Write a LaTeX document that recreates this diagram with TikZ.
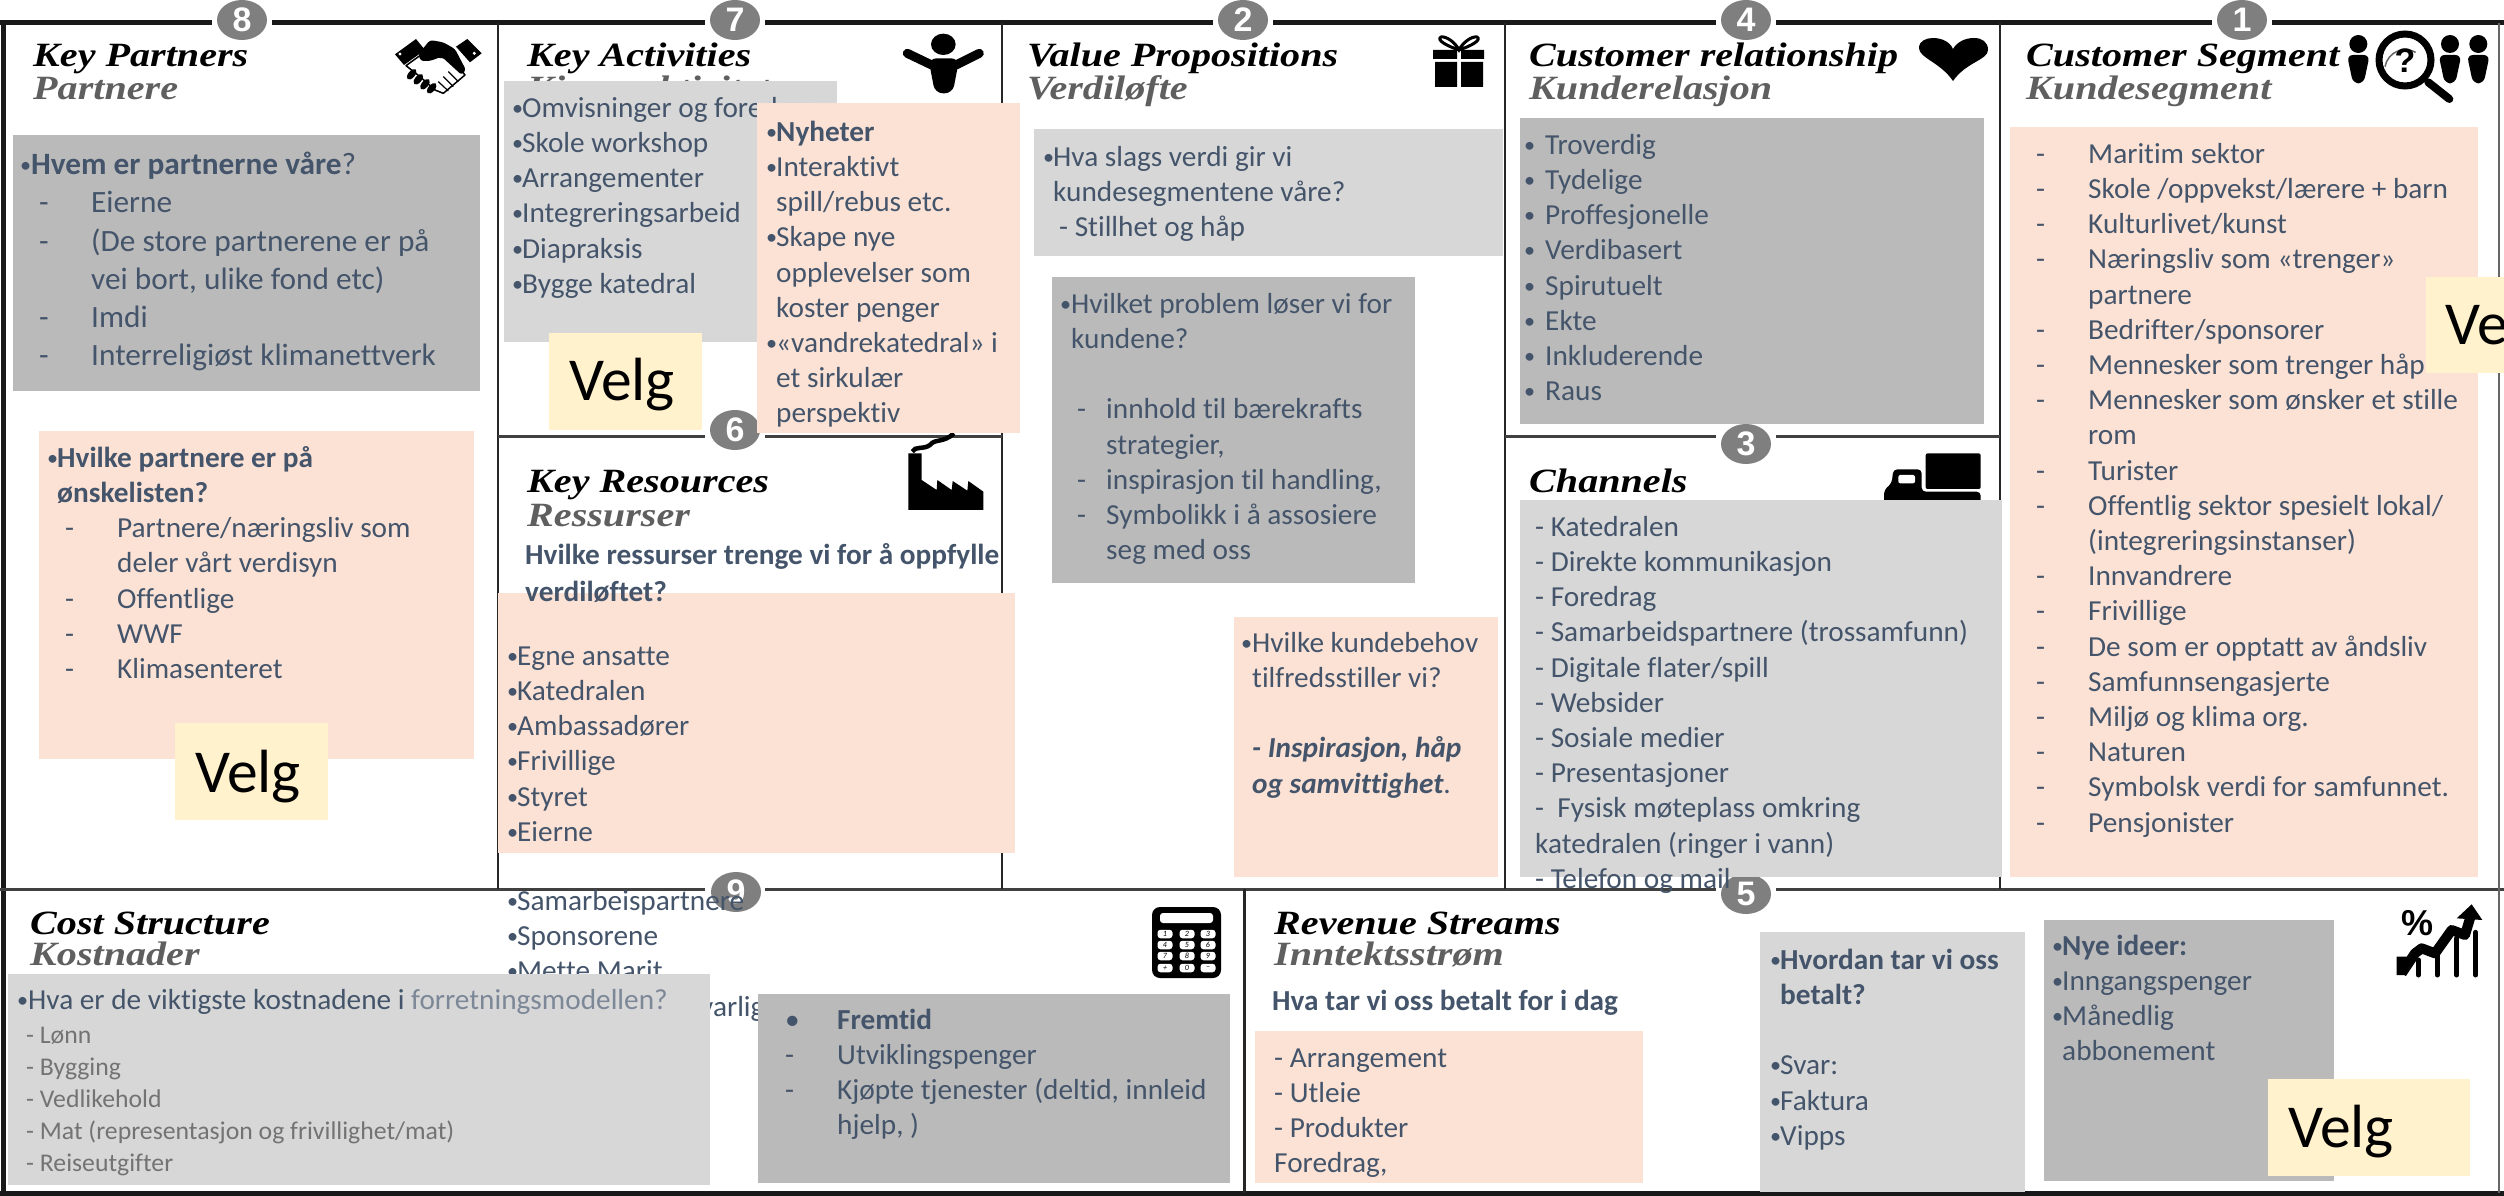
\documentclass[tikz,border=0pt]{standalone}
\usepackage{fontspec}
\usetikzlibrary{shapes.geometric}
\setmainfont{Carlito}
\newfontfamily\bodyf[FakeStretch=1.01,Ligatures=NoCommon]{Carlito}
\newfontfamily\ttlf[FakeStretch=1.18]{Liberation Serif}
\newfontfamily\numf{Liberation Sans}
\definecolor{dgray}{HTML}{BABABA}
\definecolor{lgray}{HTML}{D7D7D7}
\definecolor{peach}{HTML}{FBE2D5}
\definecolor{yel}{HTML}{FFF2CC}
\definecolor{ink}{HTML}{44546A}
\definecolor{subt}{HTML}{5F5F5F}
\definecolor{badgec}{HTML}{7F7F7F}
\newcommand\fs[2]{\fontsize{#1pt}{#2pt}\selectfont}
\newcommand\st{\rule{0pt}{26pt}}
\newcommand\bu[1][12]{\makebox[#1pt][l]{\raisebox{2pt}{\fs{22}{22}•}}}
\newcommand\sk[1]{\hspace*{#1pt}}
\newcommand\dd[3]{\makebox[#2pt][l]{\hspace*{#1pt}-}#3}
\tikzset{
  txt/.style={anchor=north west,inner sep=0pt,yshift=26pt,align=left,text=ink,font=\bodyf\fs{29}{35.2}},
  ttl/.style={anchor=base west,inner sep=0pt,font=\ttlf\bfseries\itshape\fs{34}{36},text=black},
  sub/.style={anchor=base west,inner sep=0pt,font=\ttlf\bfseries\itshape\fs{34}{36},text=subt},
  velg/.style={anchor=base west,inner sep=0pt,font=\bodyf\fs{61}{61},text=black},
  badge/.style={ellipse,fill=badgec,text=white,minimum width=50pt,minimum height=40pt,inner sep=0pt,font=\numf\bfseries\fs{34}{34}},
  frameb/.style={line width=5pt,draw=black!90},
  framem/.style={line width=3pt,draw=black!75},
  zm/.style 2 args={shift={(#1,#2)},x=0.3333pt,y=-0.3333pt},
  key/.style={fill=white,rounded corners=3pt,minimum width=15pt,minimum height=8.5pt,inner sep=0pt,font=\itshape\fs{8}{8},text=black}
}
\newcommand\gap[2]{\fill[white] (#1-30,#2-6) rectangle (#1+30,#2+6);}
\begin{document}
\begin{tikzpicture}[x=1pt,y=-1pt]
\useasboundingbox (0,0) rectangle (2504,1196);
\fill[white] (0,0) rectangle (2504,1196);
\clip (0,0) rectangle (2504,1196);
% grid
\draw[frameb] (0,23) -- (2504,23);
\draw[frameb] (3,23) -- (3,1193);
\draw[frameb] (0,1193) -- (2504,1193);
\draw[framem] (0,889) -- (2504,889);
\draw[line width=2.5pt,draw=black!85] (498,23) -- (498,889);
\draw[line width=2.5pt,draw=black!85] (1002,23) -- (1002,889);
\draw[line width=2.5pt,draw=black!85] (1505,23) -- (1505,889);
\draw[line width=2.5pt,draw=black!85] (2000,23) -- (2000,889);
\draw[line width=3pt,draw=black!85] (1244,889) -- (1244,1193);
\draw[line width=2pt,draw=black!60] (2499,23) -- (2499,1193);
\draw[framem] (498,436) -- (1002,436);
\draw[framem] (1505,436) -- (2000,436);
% badges
\gap{242}{23}\node[badge] (b8) at (242,20) {8};
\gap{735}{23}\node[badge] (b7) at (735,20) {7};
\gap{1243}{23}\node[badge] (b2) at (1243,20) {2};
\gap{1746}{23}\node[badge] (b4) at (1746,20) {4};
\gap{2242}{23}\node[badge] (b1) at (2242,20) {1};
\gap{735}{436}\node[badge] (b6) at (735,430) {6};
\gap{1746}{436}\node[badge] (b3) at (1746,444) {3};
\gap{735}{889}\node[badge] (b9) at (736,892) {9};
\gap{1746}{889}\node[badge] (b5) at (1746,894) {5};
% titles
\node[ttl] (t1) at (33,67) {Key Partners};
\node[sub] (s1) at (33,100) {Partnere};
\node[ttl] (t2) at (527,67) {Key Activities};
\node[sub] (s2) at (527,100) {Kjerneaktiviteter};
\node[ttl] (t3) at (527,492) {Key Resources};
\node[sub] (s3) at (527,526) {Ressurser};
\node[ttl] (t4) at (1027,67) {Value Propositions};
\node[sub] (s4) at (1027,100) {Verdiløfte};
\node[ttl] (t5) at (1529,67) {Customer relationship};
\node[sub] (s5) at (1529,100) {Kunderelasjon};
\node[ttl] (t6) at (1529,492) {Channels};
\node[ttl] (t7) at (2026,67) {Customer Segment};
\node[sub] (s7) at (2026,100) {Kundesegment};
\node[ttl] (t8) at (30,934) {Cost Structure};
\node[sub] (s8) at (30,965) {Kostnader};
\node[ttl] (t9) at (1274,934) {Revenue Streams};
\node[sub] (s9) at (1274,965) {Inntektsstrøm};
% icon: handshake
\begin{scope}[zm={380}{25}]
\fill[black] (45,88)--(108,42)--(135,75)--(72,120)--cycle;
\fill[black] (228,65)--(262,42)--(305,85)--(270,112)--cycle;
\fill[white] (60,87) circle (5);
\fill[white] (283,85) circle (5);
\draw[black,line width=1.5pt,fill=white,line join=round] (78,122)--(125,88)--(160,95)--(215,100)--(255,150)--(190,205)--(165,195)--(120,155)--cycle;
\fill[black,rounded corners=3pt] (115,88)--(150,45)--(190,52)--(225,72)--(258,135)--(245,150)--(185,95)--(150,108)--(122,108)--cycle;
\foreach \a/\b in {95/148,115/163,135/178,155/190}{\fill[black,rotate around={-40:(\a,\b)}] (\a,\b) ellipse (10 and 19);}
\draw[black,line width=1.2pt] (205,140)--(235,170) (190,155)--(220,185) (175,170)--(205,198);
\end{scope}
% icon: person
\begin{scope}[zm={880}{25}]
\fill[black] (190,58) ellipse (37 and 32);
\draw[black,line width=9pt,line cap=round] (82,85)--(155,120);
\draw[black,line width=9pt,line cap=round] (298,85)--(228,120);
\fill[black,rounded corners=8pt] (145,100)--(238,100)--(218,205)--(165,205)--cycle;
\end{scope}
% icon: gift
\fill[black] (1433,50) rectangle (1457,59) (1461,50) rectangle (1484,59) (1435,62) rectangle (1457,87) (1461,62) rectangle (1483,87);
\draw[black,line width=3pt] (1459,50) .. controls (1447,46) and (1436,40) .. (1441,37) .. controls (1446,36) and (1455,42) .. (1459,50) .. controls (1463,42) and (1472,36) .. (1477,37) .. controls (1482,40) and (1471,46) .. (1459,50);
% icon: heart
\fill[black] (1953,81) .. controls (1940,62) and (1919,58) .. (1919,48) .. controls (1919,41) and (1926,38) .. (1933,38) .. controls (1942,38) and (1950,42) .. (1953,49) .. controls (1957,42) and (1965,38) .. (1974,38) .. controls (1982,38) and (1988,42) .. (1988,50) .. controls (1988,60) and (1966,62) .. (1953,81) -- cycle;
% icon: magnifier and people
\begin{scope}[zm={2330}{25}]
\foreach \c in {85,360,445}{
\fill[black] (\c,57) circle (27);
\fill[black,rounded corners=6pt] (\c-34,90)--(\c+34,90)--(\c+16,175)--(\c-16,175)--cycle;}
\draw[black,line width=8pt,line cap=round] (295,172)--(358,222);
\draw[black,line width=7pt,fill=white] (225,105) circle (78);
\draw[black!60,line width=1.5pt] (165,125) arc (190:300:62);
\node[inner sep=0pt,font=\numf\bfseries\fs{34}{34},text=black] (qm) at (225,108) {?};
\end{scope}
% icon: factory
\begin{scope}[zm={880}{425}]
\draw[black,line width=4.5pt] (97,80) .. controls (105,62) and (130,75) .. (150,60) .. controls (165,40) and (190,55) .. (222,25);
\fill[black] (85,85)--(125,85)--(125,165)--(170,195)--(172,165)--(215,195)--(218,168)--(262,197)--(265,168)--(310,200)--(310,255)--(85,255)--cycle;
\end{scope}
% icon: truck
\begin{scope}[zm={1860}{440}]
\fill[black,rounded corners=2pt] (197,40) rectangle (362,147);
\fill[black,rounded corners=4pt] (72,210)--(72,150)--(95,130)--(100,88)--(185,88)--(185,155)--(362,155)--(362,210)--cycle;
\fill[white,rounded corners=2pt] (115,105) rectangle (165,130);
\end{scope}
% icon: calculator
\fill[black,rounded corners=8pt] (1152,907) rectangle (1221,978);
\fill[white,rounded corners=3pt] (1160,913) rectangle (1213,923);
\foreach \n/\t/\xx/\yy in {1/1/1165/934,2/2/1187/934,3/3/1208/934,4/4/1165/945,5/5/1187/945,6/6/1208/945,7/7/1165/956,8/8/1187/956,9/9/1208/956,10/+/1165/968,11/0/1187/968,12/−/1208/968}{\node[key] (k\n) at (\xx,\yy) {\t};}
% icon: chart
\begin{scope}[zm={2380}{895}]
\foreach \a/\b in {115/195,172/175,230/130,287/112}{\draw[black,line width=5pt,line cap=round] (\a,\b)--(\a,240);}
\draw[black,line width=10pt,line join=round] (65,240)--(65,185) (65,235)--(105,175)--(125,160)--(165,175)--(215,105)--(255,120)--(273,60);
\fill[black] (275,28)--(307,75)--(230,70)--cycle;
\node[inner sep=0pt,font=\numf\bfseries\fs{36}{36},text=black] (pct) at (112,85) {\%};
\end{scope}
% text under the boxes
\node[txt] (resb) at (507,910) {\st\bu[10]Samarbeispartnere\\\bu[10]Sponsorene\\\bu[10]Mette Marit};
\node[txt,anchor=north west] (resc) at (700,1016) {\st varlig};
% boxes
\fill[dgray] (13,135) rectangle (480,391);
\fill[peach] (39,431) rectangle (474,759);
\fill[lgray] (504,81) rectangle (837,342);
\node[txt] (acta) at (512,117) {\st\bu[10]Omvisninger og foredrag\\\bu[10]Skole workshop\\\bu[10]Arrangementer\\\bu[10]Integreringsarbeid\\\bu[10]Diapraksis\\\bu[10]Bygge katedral};
\fill[peach] (757,103) rectangle (1020,433);
\fill[peach] (498,593) rectangle (1015,853);
\fill[lgray] (1034,129) rectangle (1503,256);
\fill[dgray] (1052,277) rectangle (1415,583);
\fill[peach] (1234,617) rectangle (1498,877);
\fill[dgray] (1520,118) rectangle (1984,424);
\fill[lgray] (1520,500) rectangle (2002,877);
\fill[peach] (2010,127) rectangle (2478,877);
\fill[lgray] (8,974) rectangle (710,1185);
\fill[dgray] (758,994) rectangle (1230,1183);
\fill[peach] (1255,1031) rectangle (1643,1183);
\fill[lgray] (1760,932) rectangle (2025,1192);
\fill[dgray] (2044,920) rectangle (2334,1181);
\fill[yel] (175,723) rectangle (328,820);
\fill[yel] (549,333) rectangle (702,430);
\fill[yel] (2426,277) rectangle (2504,373);
\fill[yel] (2268,1079) rectangle (2470,1176);
% box text
\node[txt,font=\bodyf\bfseries\fs{29}{37}] (resq) at (525,564) {\st Hvilke ressurser trenge vi for å oppfylle\\verdiløftet?};
\node[txt,font=\bodyf\fs{31}{38.2}] (pa) at (20,174.5) {\st\bu[11]{\bfseries Hvem er partnerne våre}?\\\dd{19}{71}{Eierne}\\\dd{19}{71}{(De store partnerene er på}\\\sk{71}vei bort, ulike fond etc)\\\dd{19}{71}{Imdi}\\\dd{19}{71}{Interreligiøst klimanettverk}};
\node[txt] (pb) at (47,467) {\st\bu[10]{\bfseries Hvilke partnere er på}\\\sk{10}{\bfseries ønskelisten?}\\\dd{18}{70}{Partnere/næringsliv som}\\\sk{70}deler vårt verdisyn\\\dd{18}{70}{Offentlige}\\\dd{18}{70}{WWF}\\\dd{18}{70}{Klimasenteret}};
\node[txt] (nyh) at (766,141) {\st\bu[10]{\bfseries Nyheter}\\\bu[10]Interaktivt\\\sk{10}spill/rebus etc.\\\bu[10]Skape nye\\\sk{10}opplevelser som\\\sk{10}koster penger\\\bu[10]«vandrekatedral» i\\\sk{10}et sirkulær\\\sk{10}perspektiv};
\node[txt] (resa) at (507,665) {\st\bu[10]Egne ansatte\\\bu[10]Katedralen\\\bu[10]Ambassadører\\\bu[10]Frivillige\\\bu[10]Styret\\\bu[10]Eierne};
\node[txt] (va) at (1043,166) {\st\bu[10]Hva slags verdi gir vi\\\sk{10}kundesegmentene våre?\\\sk{16}- Stillhet og håp};
\node[txt] (vb) at (1060,313) {\st\bu[11]Hvilket problem løser vi for\\\sk{11}kundene?\\~\\\dd{17}{46}{innhold til bærekrafts}\\\sk{46}strategier,\\\dd{17}{46}{inspirasjon til handling,}\\\dd{17}{46}{Symbolikk i å assosiere}\\\sk{46}seg med oss};
\node[txt] (vc) at (1241,652) {\st\bu[11]Hvilke kundebehov\\\sk{11}tilfredsstiller vi?\\~\\\sk{11}{\bfseries\itshape - Inspirasjon, håp}\\\sk{11}{\bfseries\itshape og samvittighet}.};
\node[txt] (cr) at (1524,154) {\st\bu[21]Troverdig\\\bu[21]Tydelige\\\bu[21]Proffesjonelle\\\bu[21]Verdibasert\\\bu[21]Spirutuelt\\\bu[21]Ekte\\\bu[21]Inkluderende\\\bu[21]Raus};
\node[txt] (ch) at (1535,536) {\st- Katedralen\\- Direkte kommunikasjon\\- Foredrag\\- Samarbeidspartnere (trossamfunn)\\- Digitale flater/spill\\- Websider\\- Sosiale medier\\- Presentasjoner\\-\ \ Fysisk møteplass omkring\\katedralen (ringer i vann)\\- Telefon og mail};
\node[txt] (cs) at (2036,163) {\st\dd{0}{52}{Maritim sektor}\\\dd{0}{52}{Skole /oppvekst/lærere + barn}\\\dd{0}{52}{Kulturlivet/kunst}\\\dd{0}{52}{Næringsliv som «trenger»}\\\sk{52}partnere\\\dd{0}{52}{Bedrifter/sponsorer}\\\dd{0}{52}{Mennesker som trenger håp}\\\dd{0}{52}{Mennesker som ønsker et stille}\\\sk{52}rom\\\dd{0}{52}{Turister}\\\dd{0}{52}{Offentlig sektor spesielt lokal/}\\\sk{52}(integreringsinstanser)\\\dd{0}{52}{Innvandrere}\\\dd{0}{52}{Frivillige}\\\dd{0}{52}{De som er opptatt av åndsliv}\\\dd{0}{52}{Samfunnsengasjerte}\\\dd{0}{52}{Miljø og klima org.}\\\dd{0}{52}{Naturen}\\\dd{0}{52}{Symbolsk verdi for samfunnet.}\\\dd{0}{52}{Pensjonister}};
\node[txt,font=\bodyf\fs{29}{35}] (ca) at (17,1009) {\st\bu[11]Hva er de viktigste kostnadene i \textcolor{ink!70}{forretningsmodellen?}};
\node[txt,font=\bodyf\fs{25.5}{32},text=black!55] (cb) at (26,1043) {\st- Lønn\\- Bygging\\- Vedlikehold\\- Mat (representasjon og frivillighet/mat)\\- Reiseutgifter};
\node[txt] (fr) at (785,1029) {\st\makebox[52pt][l]{•}{\bfseries Fremtid}\\\dd{0}{52}{Utviklingspenger}\\\dd{0}{52}{Kjøpte tjenester (deltid, innleid}\\\sk{52}hjelp, )};
\node[txt,font=\bodyf\bfseries\fs{29}{35}] (ra) at (1272,1010) {\st Hva tar vi oss betalt for i dag};
\node[txt] (rb) at (1274,1067) {\st- Arrangement\\- Utleie\\- Produkter\\Foredrag,};
\node[txt] (rc) at (1770,969) {\st\bu[10]{\bfseries Hvordan tar vi oss}\\\sk{10}{\bfseries betalt?}\\~\\\bu[10]Svar:\\\bu[10]Faktura\\\bu[10]Vipps};
\node[txt] (rd) at (2052,955) {\st\bu[10]{\bfseries Nye ideer:}\\\bu[10]Inngangspenger\\\bu[10]Månedlig\\\sk{10}abbonement};
\node[velg] (v1) at (195,792) {Velg};
\node[velg] (v2) at (569,400) {Velg};
\node[velg] (v3) at (2445,344) {Ve};
\node[velg] (v4) at (2288,1147) {Velg};
\end{tikzpicture}
\end{document}
